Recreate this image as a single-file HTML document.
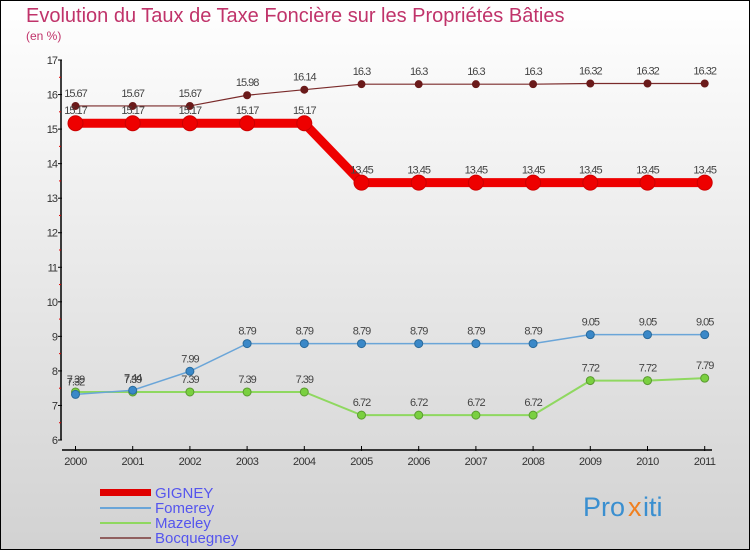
<!DOCTYPE html>
<html><head><meta charset="utf-8"><style>
body{margin:0;}
#c{width:750px;height:550px;position:relative;overflow:hidden;font-family:"Liberation Sans","DejaVu Sans",sans-serif;}
</style></head><body>
<div id="c">
<svg id="s" width="750" height="550" xmlns="http://www.w3.org/2000/svg">
<defs><linearGradient id="bg" x1="0" y1="0" x2="0" y2="1"><stop offset="0" stop-color="#ffffff"/><stop offset="1" stop-color="#d2d2d2"/></linearGradient></defs>
<rect x="0.5" y="0.5" width="749" height="549" fill="url(#bg)" stroke="#000"/>
<text x="26" y="22" font-size="20" fill="#c0336a">Evolution du Taux de Taxe Foncière sur les Propriétés Bâties</text>
<text x="26" y="40" font-size="12" fill="#c0336a">(en %)</text>
<g id="axes"></g><g id="series"></g><g id="labels"></g>
<g>
<rect x="100" y="489" width="51" height="7" fill="#e00000"/>
<text x="155" y="498" font-size="15" fill="#5555ee">GIGNEY</text>
<rect x="100" y="507" width="51" height="2" fill="#6aa5d8"/>
<text x="155" y="513" font-size="15" fill="#5555ee">Fomerey</text>
<rect x="100" y="522" width="51" height="2" fill="#8fd860"/>
<text x="155" y="528" font-size="15" fill="#5555ee">Mazeley</text>
<rect x="100" y="537" width="51" height="2" fill="#906060"/>
<text x="155" y="543" font-size="15" fill="#5555ee">Bocquegney</text>
</g>
<g font-size="27">
<text x="583" y="516" fill="#3a8fd0">Pro</text><text x="628" y="516" fill="#f08020">x</text><text x="643" y="516" fill="#3a8fd0">iti</text>
</g>
</svg>
</div>
<script>
const years=["2000","2001","2002","2003","2004","2005","2006","2007","2008","2009","2010","2011"];
const yTicks=[6,7,8,9,10,11,12,13,14,15,16,17];
const gigney=[15.17,15.17,15.17,15.17,15.17,13.45,13.45,13.45,13.45,13.45,13.45,13.45];
const fomerey=[7.32,7.44,7.99,8.79,8.79,8.79,8.79,8.79,8.79,9.05,9.05,9.05];
const mazeley=[7.39,7.39,7.39,7.39,7.39,6.72,6.72,6.72,6.72,7.72,7.72,7.79];
const bocquegney=[15.67,15.67,15.67,15.98,16.14,16.3,16.3,16.3,16.3,16.32,16.32,16.32];
const NS="http://www.w3.org/2000/svg";
function xs(i){return 75.5+i*57.2;}
function ys(v){return 440-(v-6)*34.545;}
function mk(tag,attrs,parent,text){const e=document.createElementNS(NS,tag);for(const k in attrs)e.setAttribute(k,attrs[k]);if(text!==undefined)e.textContent=text;parent.appendChild(e);return e;}
const ax=document.getElementById('axes');
let yl=mk('line',{x1:61,y1:60,x2:61,y2:440,stroke:'#000','stroke-width':1.5},ax);


yTicks.forEach(t=>{
 const y=ys(t);
 let tk=mk('line',{x1:58,y1:y,x2:62,y2:y,stroke:'#000'},ax);
 
 
 let tl=mk('text',{x:57,y:y+4,'font-size':11,fill:'#333','text-anchor':'end','letter-spacing':'-1'},ax,String(t));
 
 
 if(t<17){let m=mk('line',{x1:59,y1:ys(t+0.5),x2:61,y2:ys(t+0.5),stroke:'#e00000'},ax);
 
 }
});
let xl=mk('line',{x1:62,y1:450,x2:712,y2:450,stroke:'#000','stroke-width':1.5},ax);


years.forEach((yr,i)=>{
 const x=xs(i);
 let tk=mk('line',{x1:x,y1:446,x2:x,y2:451,stroke:'#000'},ax);
 
 
 let tl=mk('text',{x:x,y:465,'font-size':11,fill:'#333','text-anchor':'middle','letter-spacing':'-0.5'},ax,yr);
 
 
});
const sg=document.getElementById('series'),lg=document.getElementById('labels');
function draw(name,data,color,lw,r,dot,stroke){
 const g=mk('g',{},sg);
 
 
 const pl=mk('polyline',{points:data.map((v,i)=>xs(i)+','+ys(v)).join(' '),fill:'none',stroke:color,'stroke-width':lw},g);
 
 
 data.forEach((v,i)=>{
  const c=mk('circle',{cx:xs(i),cy:ys(v),r:r,fill:dot,stroke:stroke,'stroke-width':1},g);
  
  
  const t=mk('text',{x:xs(i),y:ys(v)-9,'font-size':11,fill:'#444','text-anchor':'middle','letter-spacing':'-1'},lg,String(v));
  
  
 });
}
draw('bocquegney',bocquegney,'#7a2a2a',1.2,3.5,'#6a1a1a','#6a1a1a');
draw('mazeley',mazeley,'#8fd860',2,4,'#7ad040','#5a9a30');
draw('fomerey',fomerey,'#6aa5d8',1.5,4,'#3a88c8','#2a6a9a');
draw('gigney',gigney,'#ee0000',9,7.5,'#ee0000','#cc0000');
</script>
</body></html>
